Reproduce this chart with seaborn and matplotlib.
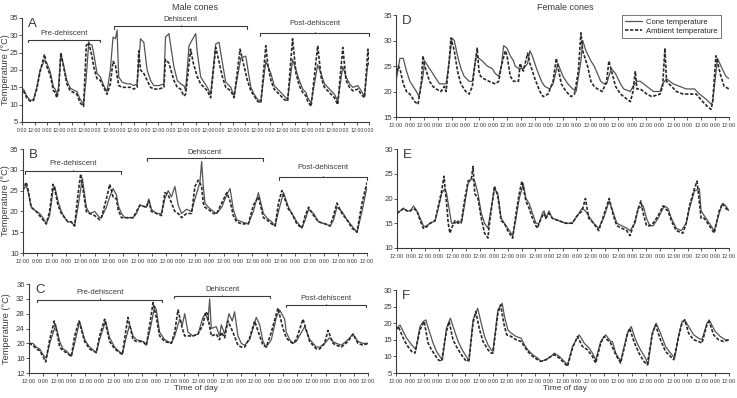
import matplotlib
matplotlib.use("Agg")
import numpy as np
import matplotlib.pyplot as plt
from matplotlib.lines import Line2D
import seaborn as sns

# hours from the start of each record, temperature in deg C
a_cone_h = [1.3, 4.5, 7.8, 11, 14.2, 17.4, 21.7, 23.9, 27.2, 30.4,
            32, 33.6, 35.3, 37.5, 40.1, 43.3, 46.6, 49.8, 53, 56.3,
            59.5, 62.1, 64.4, 67.6, 69.2, 72.5, 75.7, 79, 82.2, 85.4,
            88, 90.3, 91.9, 93.5, 96.8, 101.6, 104.8, 108.1, 111.3, 114.6,
            117.8, 121, 124.3, 127.5, 132.4, 137.2, 138.8, 142.1, 146.9, 150.2,
            153.4, 156.6, 158.3, 161.5, 168, 169.6, 172.8, 176.1, 179.3, 182.5,
            187.4, 190.6, 193.9, 197.1, 202, 205.2, 211.7, 216.5, 218.1, 221.4,
            224.6, 227.9, 231.1, 235.9, 240.8, 244, 250.5, 253.7, 257, 261.8,
            265.1, 268.3, 271.6, 274.8, 276.4, 279.7, 286.1, 289.4, 292.6, 297.5,
            302.3, 305.5, 310.4, 313.6, 316.9, 320.1, 325, 328.2, 331.4, 334.7, 336.3]
a_cone_t = [14.5, 12.5, 11.2, 11.5, 15, 20, 22.8, 22, 19.5, 15,
            14.5, 13, 15, 24.5, 21.5, 17, 14.8, 14.2, 13.8, 11.5,
            10.2, 18, 27.5, 27.2, 25, 19, 18, 15.5, 13.8, 20,
            29.5, 29, 31.5, 18, 16.5, 16, 16, 15.5, 16, 29,
            28, 20, 17, 15.5, 15.5, 16, 29.5, 30.5, 21, 17,
            16, 15.5, 14, 27, 30.5, 25, 18, 16.5, 15, 13,
            27.5, 28, 22, 16.5, 15, 12.5, 23.5, 24, 21, 15,
            13, 11.5, 11, 22.5, 19, 15.5, 13.5, 12.5, 11.5, 23,
            20, 17, 14.5, 13.5, 12, 10.5, 21.5, 19, 16, 14.5,
            13, 11, 21, 18, 16, 15, 15.5, 14, 12.5, 22, 21.5]
a_amb_h = [1.3, 4.5, 7.8, 11, 14.2, 17.4, 21.7, 23.9, 27.2, 30.4,
           32, 33.6, 35.3, 37.5, 40.1, 43.3, 46.6, 49.8, 53, 56.3,
           59.5, 62.1, 64.4, 67.6, 69.2, 72.5, 75.7, 79, 82.2, 85.4,
           88, 90.3, 93.5, 96.8, 104.8, 108.1, 111.3, 112.9, 114.6, 117.8,
           121, 124.3, 127.5, 132.4, 137.2, 138.8, 142.1, 146.9, 150.2, 153.4,
           156.6, 158.3, 163.1, 165.7, 169.6, 172.8, 176.1, 179.3, 182.5, 187.4,
           189, 193.9, 197.1, 202, 205.2, 211, 213.3, 218.1, 221.4, 224.6,
           227.9, 231.1, 235.9, 237.6, 240.8, 244, 250.5, 253.7, 257, 261.8,
           265.1, 268.3, 271.6, 274.8, 276.4, 279.7, 286.1, 289.4, 292.6, 297.5,
           302.3, 305.5, 310.4, 313.6, 316.9, 320.1, 325, 328.2, 331.4, 334.7, 336.3]
a_amb_t = [14, 12, 11, 11.2, 14.5, 19.5, 24.5, 21, 18.5, 14,
           13.5, 12, 14, 25, 21, 16, 14, 13.5, 13, 10.5,
           9.5, 27, 28, 24, 21, 17.5, 17, 15, 13, 16,
           22.5, 21.5, 15.5, 15, 15, 14.5, 15, 25.5, 20, 19,
           17, 15, 14.5, 14.5, 15, 23, 22, 17, 15, 14.5,
           12.5, 13, 26, 22, 18, 16, 15, 14, 12, 26.5,
           24.5, 18, 15, 14, 12, 26, 23, 17, 14, 12.5,
           11, 10.5, 27, 22, 17, 14.5, 12.5, 11.5, 11, 29,
           19, 15.5, 13.5, 12.5, 11, 9.5, 27, 18, 15, 13.5,
           12, 10, 26.5, 17, 15, 14, 14.5, 13, 12, 26, 21]

b_cone_h = [0, 2.8, 4.2, 7, 11.2, 14, 16.8, 19.6, 22.4, 25.2,
            26.6, 29.4, 32.2, 35, 37.7, 40.5, 43.3, 46.1, 49.8, 53.1,
            55.9, 60.1, 64.3, 65.7, 69.9, 72.7, 75.5, 78.3, 79.7, 82.5,
            85.3, 89.5, 92.3, 95.1, 97.9, 103.4, 105.4, 107.6, 111.8, 116,
            118.8, 121.6, 124.4, 127.2, 130, 132.8, 137, 141.2, 144, 148.2,
            149.6, 151, 152.4, 155.2, 159.4, 162.2, 166.4, 170.6, 173.4, 176.1,
            178.9, 183.1, 188.7, 192.9, 197.1, 201.3, 204.1, 208.3, 211.1, 213.9,
            218.1, 222.3, 225.1, 229.3, 233.5, 236.3, 239.1, 243.3, 247.4, 253,
            257.2, 260, 262.8, 267, 271.2, 275.4, 279.6, 283.8, 288]
b_cone_t = [25.5, 26, 25, 21, 20, 19.5, 18.5, 17, 19, 25,
            26, 22.5, 20, 18.5, 17.5, 17.5, 16.5, 21, 28, 21,
            19.5, 20, 18.5, 18.5, 21, 23.5, 25.5, 24, 21.5, 19.5,
            18.5, 18.5, 18.5, 19.5, 21.5, 21, 23, 20.5, 19.5, 19.5,
            23, 25, 23.5, 26, 21.5, 19.5, 20.5, 20, 23, 27,
            32, 26, 22, 21, 20, 19.5, 21, 24, 25.5, 20.5,
            18, 17.5, 17, 20, 24.5, 19.5, 18.5, 17.5, 16.5, 20,
            24.5, 21, 19.5, 17.5, 16, 18, 20.5, 19.5, 17.5, 17,
            16.5, 18, 21, 20, 18, 16.5, 15, 20, 26]
b_amb_h = [0, 2.8, 4.2, 7, 11.2, 14, 16.8, 19.6, 22.4, 25.2,
           26.6, 29.4, 32.2, 35, 37.7, 40.5, 43.3, 46.1, 48.4, 53.1,
           55.9, 60.1, 64.3, 65.7, 69.9, 72.7, 75.5, 78.3, 79.7, 82.5,
           85.3, 89.5, 92.3, 95.1, 97.9, 103.4, 105.4, 107.6, 111.8, 116,
           118.8, 121.6, 124.4, 127.2, 130, 132.8, 137, 141.2, 144, 146.8,
           149.6, 151, 152.4, 155.2, 159.4, 162.2, 166.4, 170.6, 173.4, 176.1,
           178.9, 183.1, 188.7, 192.9, 197.1, 201.3, 204.1, 208.3, 211.1, 213.9,
           216.7, 222.3, 225.1, 229.3, 233.5, 236.3, 239.1, 243.3, 247.4, 253,
           257.2, 260, 262.8, 267, 271.2, 275.4, 279.6, 283.8, 288]
b_amb_t = [25, 27, 25.5, 21, 20, 19, 18, 17, 20, 26.5,
           25.5, 21.5, 19.5, 18.5, 17.5, 17.5, 16.5, 24, 29, 20,
           19.5, 19, 18, 18.5, 23, 26.5, 23.5, 23, 20.5, 18.5,
           18.5, 18.5, 18.5, 20, 21.5, 21, 22.5, 20, 19.5, 19,
           24.5, 24, 22, 20, 19.5, 18.5, 19.5, 19.5, 26, 27.5,
           26, 22, 21, 20.5, 19.5, 19.5, 22, 24.5, 22.5, 19,
           17.5, 17, 17, 21.5, 23.5, 18.5, 18, 17, 16.5, 22,
           25, 20.5, 19.5, 17, 16, 19, 21, 19, 17.5, 17,
           16.5, 19, 22, 19.5, 18, 16, 15, 22, 27]

c_cone_h = [0, 3.4, 6.2, 9.1, 11.9, 14.7, 17.6, 22.7, 26.1, 28.9,
            31.7, 36, 38.8, 43, 47.3, 51.5, 57.2, 60, 65.1, 68.5,
            72.8, 79.3, 82.1, 85.5, 88.4, 91.2, 96.9, 99.7, 103.1, 106.8,
            108.2, 111, 115.3, 120.9, 123.8, 128, 130.3, 132.3, 135.1, 139.3,
            143.6, 147.8, 150.1, 152.1, 153.5, 154.9, 159.1, 161.9, 163.4, 166.2,
            169.9, 172.7, 174.7, 177.5, 180.4, 183.2, 187.5, 193.1, 196, 198.8,
            201.6, 205.9, 210.1, 213, 217.2, 218.6, 221.5, 224.3, 227.1, 234.2,
            238.5, 244.1, 247, 251.2, 255.4, 258.3, 261.1, 265.4, 271, 275.3,
            279.5, 283.8, 288]
c_cone_t = [20, 20, 19, 18.5, 17, 16, 20, 25, 20.5, 18.5,
            18, 16.5, 20, 26, 21, 19, 17.5, 21, 26, 21.5,
            19, 17, 21, 25, 22, 21, 20.5, 19.5, 24, 30,
            29, 23, 21, 20, 22, 26.5, 25, 28, 23, 22,
            22.5, 27, 28, 26, 32, 24, 24.5, 22, 25, 22.5,
            28, 26, 28.5, 22, 20, 19.5, 21, 27, 25, 20.5,
            19, 21, 27, 29, 26.5, 23, 21, 20, 20.5, 24.5,
            21, 19, 19, 20, 21.5, 20.5, 20, 19.5, 21, 22.5,
            20.5, 20, 20]
c_amb_h = [0, 3.4, 6.2, 9.1, 11.9, 14.2, 17.6, 21.5, 24, 26.1,
           28.9, 31.7, 36, 38.8, 42.5, 47.3, 51.5, 57.2, 60, 64.3,
           68.5, 72.8, 79.3, 82.1, 84.1, 88.4, 91.2, 96.9, 99.7, 103.1,
           105.4, 108.2, 111, 115.3, 120.9, 123.8, 126.6, 130.3, 132.3, 135.1,
           139.3, 143.6, 147.8, 150.1, 151.5, 154.9, 159.1, 161.9, 163.4, 166.2,
           169, 173.3, 177.5, 180.4, 183.2, 187.5, 191.7, 196, 198.8, 201.6,
           205.9, 211.5, 215.8, 218.6, 221.5, 224.3, 227.1, 232.8, 238.5, 244.1,
           247, 251.2, 254, 258.3, 261.1, 265.4, 271, 275.3, 279.5, 283.8,
           288]
c_amb_t = [20, 19.5, 18.5, 18, 16.5, 15, 21, 26, 22.5, 19,
           18, 17.5, 16.5, 22, 26, 20.5, 18.5, 17.5, 22, 26.5,
           20.5, 18.5, 17, 23, 27, 21, 20.5, 20.5, 19.5, 26,
           31, 27, 22, 20.5, 20, 23, 29, 24, 22, 22,
           22, 22.5, 25, 28.5, 28, 22, 22.5, 21, 23, 21.5,
           26, 23, 19.5, 19, 19, 21.5, 26, 22, 19.5, 19,
           23, 29.5, 24, 21.5, 20.5, 20, 21, 26.5, 20.5, 18.5,
           18.5, 20, 23.5, 20, 19.5, 19, 20.5, 22.5, 20, 19.5,
           20]

d_cone_h = [0, 3.4, 6.3, 9.1, 12, 14.8, 17.6, 19.9, 23.3, 24.8,
            29, 31.9, 34.7, 37.6, 43.3, 45.5, 48.4, 50.4, 53.2, 56.1,
            58.9, 63.2, 66, 69.4, 71.7, 74.6, 78.8, 83.1, 85.9, 88.8,
            91.1, 93.1, 95.9, 98.8, 101.6, 103, 105.9, 110.1, 113.8, 115.8,
            117.8, 121.5, 125.8, 128.6, 132.9, 135.8, 140, 144.3, 148.6, 152.8,
            155.7, 159.9, 161.4, 164.2, 168.5, 171.3, 174.2, 177, 179.9, 182.1,
            186.1, 189.8, 194.1, 196.9, 202.6, 204.9, 208.3, 211.2, 216.9, 222.6,
            228.3, 230.5, 233.9, 239.6, 245.3, 251, 258.1, 262.4, 268.1, 272.4,
            273.8, 278, 280.9, 285.2, 288]
d_cone_t = [22, 26.5, 26.5, 24, 22, 21, 20, 19, 23, 26,
            24.5, 23.5, 22.5, 21.5, 21.5, 25, 30.5, 30, 27, 24.5,
            23, 22, 22, 27, 26.5, 26, 25, 24.5, 23.5, 23,
            25, 29, 28.5, 27, 26, 25, 24.5, 24.5, 25.5, 28,
            27, 24.5, 22, 21, 20.5, 21.5, 25.5, 23, 21.5, 20.5,
            20, 26, 30, 28, 26, 25, 23.5, 22, 21.5, 21.5,
            24.5, 23.5, 21.5, 20.5, 20, 21, 22, 22, 21, 20,
            20, 21.5, 22.5, 21.5, 21, 20.5, 20.5, 19.5, 18.5, 17.5,
            18, 26.5, 25, 23, 22.5]
d_amb_h = [0, 2, 3.4, 6.3, 9.1, 12, 16.2, 19.1, 22, 23.3,
           24.8, 29, 31.9, 34.7, 39, 41.8, 43.3, 46, 47.5, 50.4,
           53.2, 56.1, 60.3, 63.2, 66, 68, 70.2, 71.7, 73.1, 76,
           80.3, 85.9, 88.8, 91.1, 94.5, 96, 98.8, 101.6, 105.9, 107.3,
           110.1, 113.8, 115.8, 120.1, 124.4, 127.2, 131.5, 135.8, 138.6, 142.9,
           147.1, 151.4, 154.3, 157.7, 159.9, 161.4, 165.6, 168.5, 171.3, 174.2,
           178.4, 182.1, 184.1, 189.8, 194.1, 199.8, 202.6, 204.9, 206.9, 208.3,
           211.2, 216.9, 221.1, 228.3, 230.5, 232.5, 233.9, 238.2, 242.5, 248.2,
           253.9, 259.6, 265.2, 269.5, 272.4, 273.8, 276.6, 280.9, 283.7, 288]
d_amb_t = [23, 25, 24.5, 21.5, 20, 19.5, 18, 17.5, 22, 27,
           25, 22, 21, 20.5, 20, 21, 20, 26, 30.5, 28,
           24, 21.5, 20, 19.5, 21, 25, 28.5, 24, 23, 22.5,
           22, 21.5, 22, 25, 28, 27, 23, 22, 22, 25.5,
           24, 27.5, 25.5, 22.5, 20, 19, 19.5, 22, 26.5, 21.5,
           20, 19, 19.5, 24, 31.5, 28, 25, 22, 21, 20.5,
           20, 22, 26, 21, 19.5, 18.5, 18, 20, 24, 20.5,
           20.5, 19.5, 19, 19.5, 21, 28.5, 22, 21, 20, 19.5,
           19.5, 19.5, 18, 17, 16.5, 18, 27, 23, 21, 20.5]

e_cone_h = [0, 2.9, 5.7, 8.6, 11.5, 14.3, 17.2, 20.1, 22.9, 24.4,
            28.7, 33, 35.8, 38.7, 41.5, 43, 44.4, 47.3, 50.2, 53,
            55.9, 58.8, 61.6, 64.5, 67.4, 70.2, 73.1, 75.9, 78.8, 80.2,
            84.5, 87.4, 90.3, 93.1, 96, 98.9, 100.3, 103.2, 106, 109.5,
            111.8, 114.6, 117.5, 120.4, 123.2, 126.1, 127.5, 129, 131.8, 134.7,
            140.4, 146.2, 151.9, 156.2, 160.5, 163.4, 166.2, 170.5, 174.9, 179.1,
            184, 187.7, 190.6, 194.9, 199.2, 202, 206.4, 209.2, 213.5, 216.4,
            219.2, 222.1, 226.4, 230.7, 232.1, 235, 237.9, 242.2, 246.5, 250.8,
            253.6, 257.9, 262.2, 263.7, 266.5, 269.4, 272.3, 275.1, 279.4, 282.3,
            285.2, 288]
e_cone_t = [17, 17.5, 18, 17.5, 17.5, 18.5, 17.5, 16, 14.5, 14.3,
            15, 15.5, 18, 21, 22, 21, 19, 15, 15, 15.5,
            15, 19, 23, 24, 23.5, 21, 17, 15, 14, 16,
            22, 21, 16, 15, 14, 13, 12.5, 16, 20, 23,
            20, 19, 17, 15, 15, 17, 17.5, 16, 17.5, 16,
            15.5, 15, 15, 16.5, 18, 17.5, 16.5, 15, 14, 16,
            19.5, 17, 15, 14.5, 14, 13.5, 15, 18, 18.5, 16,
            14.5, 14.5, 16, 18, 18.5, 18, 16, 14, 13.5, 15,
            18, 21.5, 22, 17.5, 16.5, 15.5, 14.5, 13.5, 17, 19,
            18.5, 17.5]
e_amb_h = [0, 2.9, 5.7, 8.6, 11.5, 14.3, 17.2, 20.1, 22.9, 24.4,
           28.7, 33, 35.8, 38.7, 40.7, 43, 44.4, 45.9, 47.3, 50.2,
           53, 55.9, 58.8, 61.6, 64.5, 65.9, 67.4, 70.2, 73.1, 75.9,
           78.8, 80.2, 84.5, 87.4, 90.3, 93.1, 96, 98.9, 100.3, 103.2,
           106, 108.3, 111.8, 114.6, 117.5, 120.4, 121.8, 123.2, 126.1, 127.5,
           129, 131.8, 134.7, 140.4, 146.2, 151.9, 156.2, 160.5, 163.4, 166.2,
           170.5, 174.9, 179.1, 184, 187.7, 190.6, 194.9, 199.2, 202, 206.4,
           209.2, 211.5, 213.5, 216.4, 219.2, 222.1, 226.4, 230.7, 232.1, 235,
           237.9, 242.2, 247.9, 250.8, 253.6, 257.9, 260.2, 263.7, 266.5, 269.4,
           272.3, 275.1, 279.4, 282.3, 285.2, 288]
e_amb_t = [17, 17.5, 18, 17.5, 17.5, 18, 17.5, 15.5, 14, 14,
           15, 15.5, 18.5, 21.5, 24.5, 19, 15, 13, 14, 15.5,
           15, 15.5, 20, 23.5, 24, 26.5, 21, 20, 16, 13,
           12, 15, 22.5, 20.5, 15.5, 15, 13.5, 12.5, 12, 17,
           21, 23.5, 19.5, 18, 16, 14.5, 14, 15, 16.5, 17,
           16, 17, 16, 15.5, 15, 15, 16.5, 17.5, 20, 16,
           15, 13.5, 16.5, 20, 16.5, 14.5, 14, 13.5, 12.5, 15.5,
           18, 19.5, 17, 14.5, 14.5, 15, 16.5, 18.5, 18, 17.5,
           15.5, 13.5, 13, 15, 18.5, 22, 23.5, 16, 16, 15,
           14, 13, 17.5, 19, 18, 17.5]

f_cone_h = [0, 3.4, 6.3, 9.2, 13.5, 17.2, 20.7, 23.5, 25.8, 29.3,
            32.1, 35, 37.9, 40.2, 43.6, 47, 50.8, 53.7, 58, 60.8,
            63.1, 66.6, 70.6, 73.7, 76.6, 79.5, 82.3, 83.8, 88.1, 91.8,
            93.8, 96.7, 99.6, 103.9, 108.2, 111, 113.9, 118.2, 122.5, 125.4,
            129.7, 134, 136.9, 141.2, 145.5, 148.3, 152.6, 158.4, 162.7, 167,
            169.8, 172.7, 177, 181.3, 185.6, 187.1, 190, 194.2, 200, 203.4,
            207.1, 211.4, 215.7, 218, 221.5, 224.9, 228.7, 233, 237.3, 241,
            244.4, 247.3, 249.6, 253, 257.3, 261.6, 264.5, 268.8, 270.8, 276,
            280.3, 284.6, 288]
f_cone_t = [18, 19.5, 17.5, 15.5, 13.5, 12, 19, 20.5, 21, 17,
            14, 11.5, 10, 9, 18.5, 21.5, 17.5, 14.5, 11.5, 10,
            8.5, 21, 24.5, 20, 16, 13.5, 12, 11.5, 24, 26,
            22, 18, 17, 16, 15.5, 13.5, 12, 10.5, 9.5, 8.5,
            9, 10, 11, 10, 8.5, 7.5, 13, 16.5, 14, 12.5,
            11, 9, 14.5, 16.5, 14.5, 14.5, 11, 8.5, 17, 19,
            15, 12, 9.5, 7.5, 17, 20, 17, 13, 11, 9.5,
            16.5, 20.5, 21, 19, 16.5, 15.5, 15, 20, 21, 17.5,
            16, 15, 15]
f_amb_h = [0, 2, 6.3, 9.2, 13.5, 16.4, 20.7, 24.4, 27.8, 30.7,
           33.6, 36.4, 39.3, 43.6, 45.9, 49.3, 52.2, 56.5, 60.8, 63.1,
           66.6, 68.9, 72.3, 75.2, 79.5, 82.3, 83.8, 88.1, 90.4, 93.8,
           95.8, 99.6, 103.9, 108.2, 111, 113.9, 118.2, 122.5, 125.4, 129.7,
           134, 136.9, 141.2, 145.5, 148.3, 152.6, 156.9, 161.2, 165.5, 169.8,
           172.7, 177, 179.9, 185.6, 190, 194.2, 200, 202, 205.7, 210,
           214.3, 217.2, 221.5, 224.4, 228.7, 233, 237.3, 240.1, 244.4, 247.3,
           249.6, 253, 257.3, 261.6, 264.5, 268.8, 270.8, 274.6, 278.9, 283.2,
           288]
f_amb_t = [18, 19, 15.5, 13.5, 11.5, 11, 18, 20.5, 14, 12,
           10.5, 9, 8.5, 17.5, 20.5, 15, 13, 10.5, 8.5, 9,
           20, 23.5, 18, 14.5, 12, 11, 11, 23, 25.5, 19,
           16.5, 16, 15, 14.5, 13, 11.5, 10, 9, 8.5, 9,
           10, 10.5, 9.5, 8, 7, 12.5, 16, 13, 12, 10,
           8, 14, 16, 14, 10.5, 8, 16.5, 18.5, 14.5, 11,
           8.5, 7.5, 16.5, 19.5, 15, 11.5, 10, 9, 16, 20,
           21, 17, 15, 14.5, 14, 19.5, 20.5, 16.5, 15, 14.5,
           15]

series_names = ["Cone temperature", "Ambient temperature"]
stage_names = ["Pre-dehiscent", "Dehiscent", "Post-dehiscent"]

sns.set_style("ticks")
plt.rcParams["font.family"] = ["Liberation Sans", "DejaVu Sans"]

fig = plt.figure(figsize=(7.37, 3.98), dpi=100)

# name, rect, hours shown, first tick label, y range, y ticks, data, brackets
panels = [
    ("A", [0.030, 0.6935, 0.471, 0.2613], 336, "0:00", (5, 35), range(5, 36, 5),
     (a_cone_h, a_cone_t, a_amb_h, a_amb_t),
     [(6, 75, 28.7, 30.6), (88.7, 218, 32.6, 34.5), (230.5, 336, 30.6, 33.4)]),
    ("B", [0.031, 0.3643, 0.467, 0.2613], 288, "12:00", (10, 35), range(10, 36, 5),
     (b_cone_h, b_cone_t, b_amb_h, b_amb_t),
     [(1.4, 82.5, 29.6, 31.6), (103.5, 201, 32.8, 34.2), (214, 288, 28.2, 30.6)]),
    ("C", [0.0393, 0.0628, 0.460, 0.2236], 288, "12:00", (12, 36), range(12, 37, 4),
     (c_cone_h, c_cone_t, c_amb_h, c_amb_t),
     [(7.1, 113, 31.8, 33.7), (123, 205, 32.75, 34.6), (218, 286.6, 30.3, 32.1)]),
    ("D", [0.5373, 0.706, 0.452, 0.2563], 288, "12:00", (15, 35), range(15, 36, 5),
     (d_cone_h, d_cone_t, d_amb_h, d_amb_t), []),
    ("E", [0.5387, 0.3769, 0.4506, 0.2487], 288, "12:00", (10, 30), range(10, 31, 5),
     (e_cone_h, e_cone_t, e_amb_h, e_amb_t), []),
    ("F", [0.5373, 0.0628, 0.452, 0.2085], 288, "12:00", (5, 30), range(5, 31, 5),
     (f_cone_h, f_cone_t, f_amb_h, f_amb_t), []),
]

ink = "#3a3a3a"
for name, rect, span, first, ylim, yticks, data, brackets in panels:
    ax = fig.add_axes(rect)
    ch, ct, ah, at = data
    sns.lineplot(x=ch, y=ct, ax=ax, color="#555555", lw=0.9,
                 estimator=None, sort=False)
    sns.lineplot(x=ah, y=at, ax=ax, color="#2a2a2a", lw=1.2,
                 linestyle=(0, (2, 1)), estimator=None, sort=False)
    ax.set_xlim(0, span)
    ax.set_ylim(*ylim)
    ticks = np.arange(0, span + 1, 12)
    other = "12:00" if first == "0:00" else "0:00"
    ax.set_xticks(ticks)
    ax.set_xticklabels([first if i % 2 == 0 else other for i in range(len(ticks))])
    ax.set_yticks(list(yticks))
    ax.tick_params(axis="x", labelsize=3.8 if span > 300 else 4.1, length=2,
                   width=0.6, pad=2, colors=ink)
    ax.tick_params(axis="y", labelsize=5.6, length=2, width=0.6, pad=1, colors=ink)
    sns.despine(ax=ax)
    for s in ("left", "bottom"):
        ax.spines[s].set_color(ink)
        ax.spines[s].set_linewidth(0.8)
    ax.set_xlabel("")
    if rect[0] < 0.5:
        ax.set_ylabel("Temperature (°C)", fontsize=6.6, color=ink)
        ax.yaxis.label.set_va("center")
        # centre the label about 6 px from the figure's left edge
        left_px = rect[0] * 737
        ax.yaxis.set_label_coords((6 - left_px) / (rect[2] * 737), 0.5)
    else:
        ax.set_ylabel("")
    ax.text(0.018, 1.0, name, transform=ax.transAxes, ha="left", va="top",
            fontsize=9.5, color=ink)
    dy = 0.025 * (ylim[1] - ylim[0])
    for label, (x0, x1, y, ty) in zip(stage_names, brackets):
        ax.plot([x0, x0, x1, x1], [y - dy, y, y, y - dy], color=ink, lw=0.8,
                clip_on=False)
        xc = (x0 + x1) / 2
        ax.plot([xc, xc], [y, y + dy * 0.5], color=ink, lw=0.6)
        ax.text(xc, ty, label, ha="center", va="center", fontsize=5.5, color=ink)
    if name == "D":
        handles = [Line2D([], [], color="#555555", lw=0.9),
                   Line2D([], [], color="#2a2a2a", lw=1.2, linestyle=(0, (2, 1)))]
        leg = ax.legend(handles, series_names, loc="upper right",
                        bbox_to_anchor=(0.975, 1.0), borderaxespad=0,
                        fontsize=5.5, handlelength=2.2, handletextpad=0.5,
                        labelspacing=0.25, borderpad=0.45, fancybox=False)
        leg.get_frame().set_edgecolor(ink)
        leg.get_frame().set_linewidth(0.6)

fig.text(195 / 737, 1 - 8 / 398, "Male cones", ha="center", va="center",
         fontsize=6.5, color=ink)
fig.text(565 / 737, 1 - 8 / 398, "Female cones", ha="center", va="center",
         fontsize=6.5, color=ink)
fig.text(196 / 737, 1 - 388 / 398, "Time of day", ha="center", va="center",
         fontsize=6, color=ink)
fig.text(565 / 737, 1 - 388 / 398, "Time of day", ha="center", va="center",
         fontsize=6, color=ink)

fig.savefig("out.png", dpi=100)
